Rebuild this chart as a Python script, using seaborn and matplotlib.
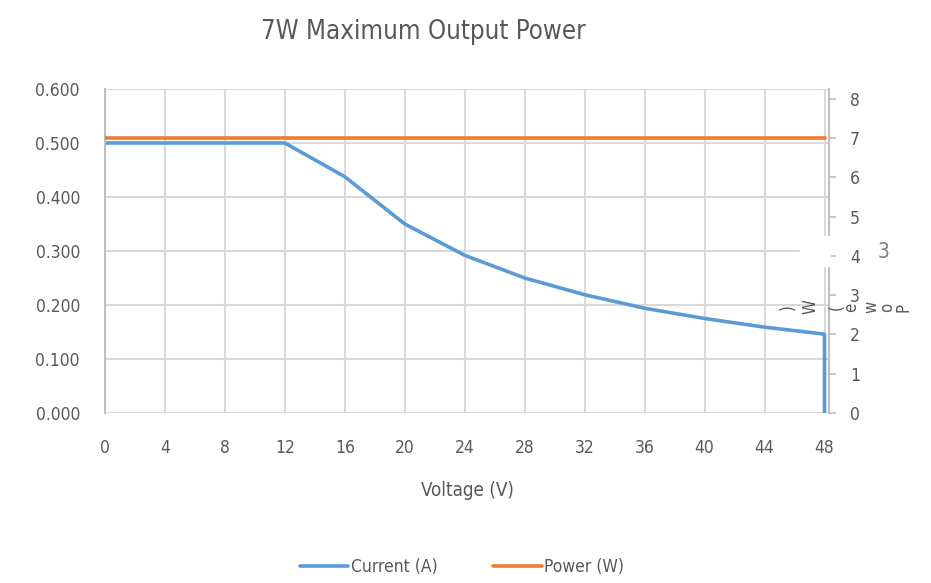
import matplotlib
matplotlib.use("Agg")
import matplotlib.pyplot as plt
import seaborn as sns
import pandas as pd

# data
voltage = [0, 4, 8, 12, 16, 20, 24, 28, 32, 36, 40, 44, 48, 48]
current = [0.5, 0.5, 0.5, 0.5, 0.4375, 0.35, 0.292, 0.25, 0.219, 0.194, 0.175, 0.159, 0.146, 0.0]
power_voltage = [0, 4, 8, 12, 16, 20, 24, 28, 32, 36, 40, 44, 48]
power = [7, 7, 7, 7, 7, 7, 7, 7, 7, 7, 7, 7, 7]
x_ticks = [0, 4, 8, 12, 16, 20, 24, 28, 32, 36, 40, 44, 48]
left_ticks = [0.0, 0.1, 0.2, 0.3, 0.4, 0.5, 0.6]
right_ticks = [0, 1, 2, 3, 4, 5, 6, 7, 8]

BLUE = "#5B9BD5"
ORANGE = "#ED7D31"
TXT = "#595959"
GRID = "#D9D9D9"


def main():
    sns.set_style("white")
    plt.rcParams['font.family'] = ['DejaVu Sans']
    plt.rcParams['font.stretch'] = 'condensed'

    cur_df = pd.DataFrame({'Voltage': voltage, 'Current': current})
    pow_df = pd.DataFrame({'Voltage': power_voltage, 'Power': power})

    fig = plt.figure(figsize=(9.31, 5.83), dpi=100)
    ax = fig.add_axes([105 / 931, 1 - 413 / 583, (829 - 105) / 931, (413 - 89) / 583])
    ax2 = ax.twinx()

    sns.lineplot(data=cur_df, x='Voltage', y='Current', ax=ax, color=BLUE,
                 linewidth=2.6, sort=False, estimator=None, legend=False)
    sns.lineplot(data=pow_df, x='Voltage', y='Power', ax=ax2, color=ORANGE,
                 linewidth=2.6, estimator=None, legend=False)

    ax.set_xlim(0, 48.3)
    ax.set_ylim(0, 0.6)
    ax2.set_ylim(0, 8.25)
    ax.set_xticks(x_ticks)
    ax.set_yticks(left_ticks)
    ax.set_yticklabels([f"{v:.3f}" for v in left_ticks])
    ax2.set_yticks(right_ticks)

    ax.grid(True, color=GRID, linewidth=1.5)
    ax.set_axisbelow(True)
    for a in (ax, ax2):
        for s in a.spines.values():
            s.set_visible(False)
    ax.spines['left'].set_visible(True)
    ax.spines['left'].set_color("#BFBFBF")
    ax.spines['left'].set_linewidth(1.5)
    ax2.spines['right'].set_visible(True)
    ax2.spines['right'].set_color("#BFBFBF")
    ax2.spines['right'].set_linewidth(1.5)

    ax.tick_params(axis='both', length=0, labelsize=12.5, colors=TXT)
    ax.tick_params(axis='y', pad=18)
    ax.tick_params(axis='x', pad=19)
    ax2.tick_params(axis='y', length=5, width=1.2, color="#BFBFBF",
                    labelsize=12.5, labelcolor=TXT, pad=10)

    ax.set_xlabel('Voltage (V)', fontsize=13.5, color=TXT, labelpad=17)
    ax.set_ylabel('')
    ax2.set_ylabel('')

    fig.text(423 / 931, 1 - 32 / 583, '7W Maximum Output Power', ha='center',
             va='center', fontsize=18.5, color=TXT)

    # leftover bits of the right axis title
    fig.patches.append(plt.Rectangle((800 / 931, 1 - 266 / 583), 30 / 931, 30 / 583,
                                     transform=fig.transFigure, color='white', zorder=5))
    fig.text(884 / 931, 1 - 252 / 583, '3', ha='center', va='center',
             fontsize=15, color="#7F7F7F", family=['DejaVu Sans'])
    for ch, px in zip(')W(ewoP', [788, 810, 837, 851, 871, 887, 903]):
        fig.text(px / 931, 1 - 307 / 583, ch, rotation=90, ha='center', va='center',
                 fontsize=12, color=TXT)

    handles = ax.get_lines()[:1] + ax2.get_lines()[:1]
    fig.legend(handles, ['Current (A)', 'Power (W)'], loc='center',
               bbox_to_anchor=(462 / 931, 1 - 567 / 583), ncol=2, frameon=False,
               fontsize=12.5, labelcolor=TXT, handlelength=2.8, handletextpad=0.15,
               columnspacing=3.2)

    fig.savefig('out.png', dpi=100)
    plt.close(fig)


if __name__ == "__main__":
    main()
